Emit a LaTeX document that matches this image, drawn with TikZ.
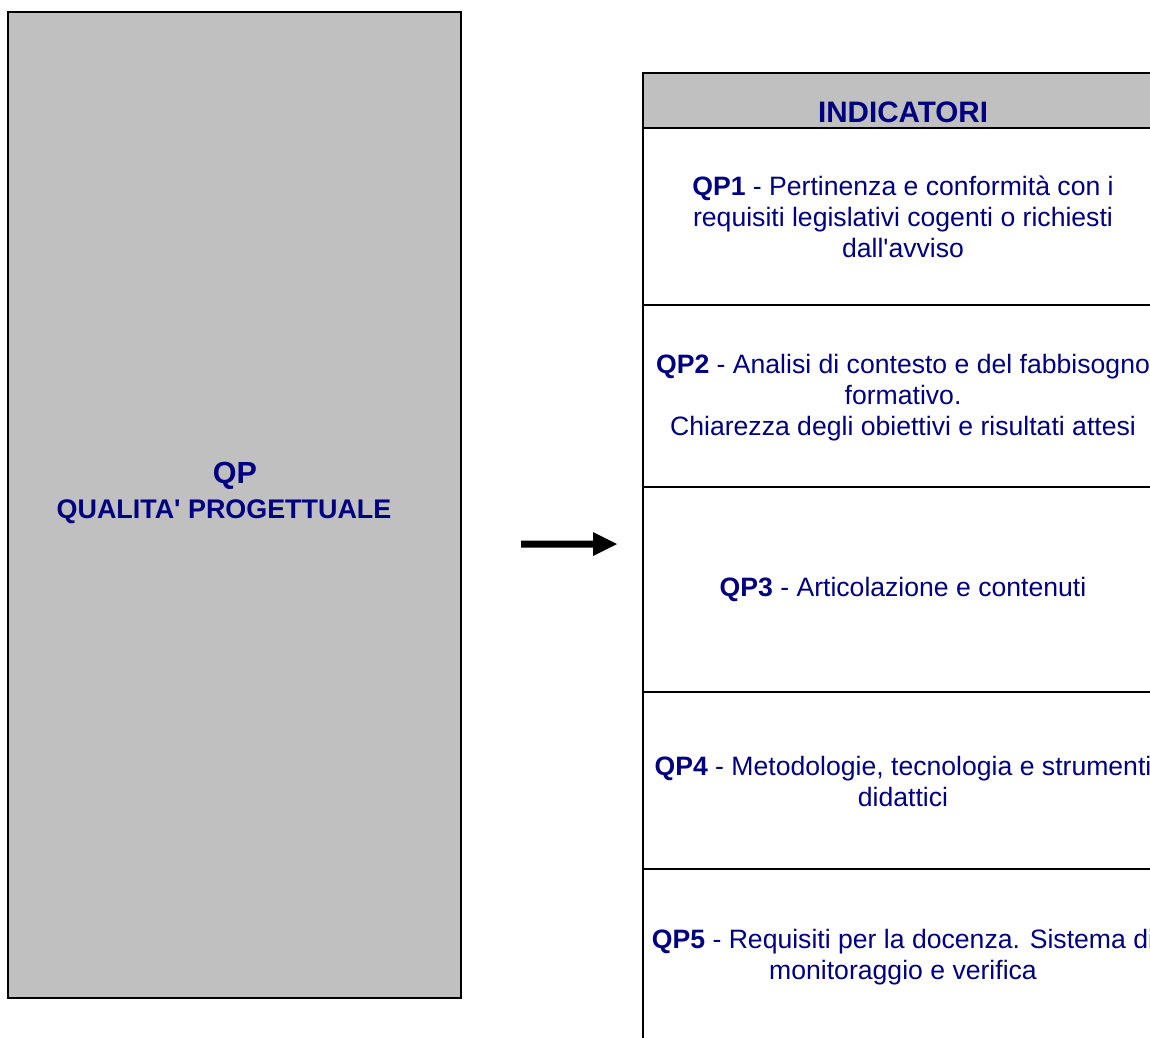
\documentclass[tikz,border=0pt]{standalone}
\usepackage{fontspec}
\setmainfont{Liberation Sans}
\definecolor{navy}{RGB}{0,0,128}
\definecolor{boxgray}{RGB}{192,192,192}
\newcommand{\apos}{\XeTeXglyph\XeTeXcharglyph"27\relax}
\begin{document}
\begin{tikzpicture}[x=1pt,y=-1pt,
  frame/.style={draw=black,line width=2.2pt},
  txt/.style={text=navy,align=center,font=\fontsize{26.6}{31}\selectfont,inner sep=0pt},
  big/.style={text=navy,align=center,inner sep=0pt}]
\useasboundingbox (0,0) rectangle (1150,1037);
\clip (0,0) rectangle (1150,1037);
% left box
\draw[frame,fill=boxgray] (8,12) rectangle (461,998);
\node[big,font=\bfseries\fontsize{30.5}{34}\selectfont] (qp) at (235,476) {QP};
\node[big,font=\bfseries\fontsize{26.9}{31}\selectfont] (qpt) at (224,512) {QUALITA\apos{} PROGETTUALE};
% table
\draw[frame,fill=boxgray] (643,73) rectangle (1170,128);
\draw[frame] (643,128) rectangle (1170,1060);
\draw[frame] (643,305) -- (1170,305);
\draw[frame] (643,487) -- (1170,487);
\draw[frame] (643,692) -- (1170,692);
\draw[frame] (643,869) -- (1170,869);
\node[big,font=\bfseries\fontsize{29.6}{34}\selectfont] (hdr) at (903,112) {INDICATORI};
\node[txt] (r1) at (903,217) {\textbf{QP1} - Pertinenza e conformità con i\\requisiti legislativi cogenti o richiesti\\dall\apos{}avviso};
\node[txt] (r2) at (903,398) {\textbf{QP2} - Analisi di contesto e del fabbisogno\\formativo.\\Chiarezza degli obiettivi e risultati attesi};
\node[txt] (r3) at (903,589) {\textbf{QP3} - Articolazione e contenuti};
\node[txt] (r4) at (903,781) {\textbf{QP4} - Metodologie, tecnologia e strumenti\\didattici};
\node[txt] (r5) at (903,957) {\textbf{QP5} - Requisiti per la docenza. Sistema di\\monitoraggio e verifica};
% arrow
\fill[black] (521,540.5) -- (593,540.5) -- (593,532) -- (617,544) -- (593,556) -- (593,547.5) -- (521,547.5) -- cycle;
\end{tikzpicture}
\end{document}
